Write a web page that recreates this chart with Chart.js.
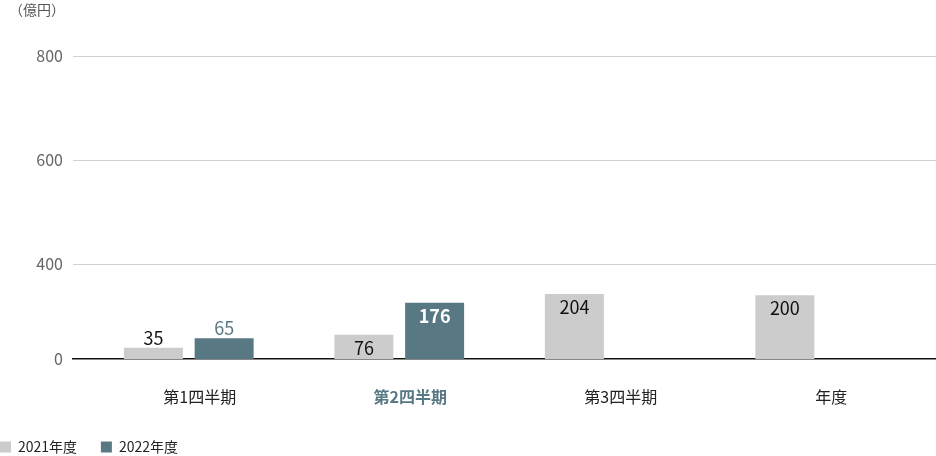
<!DOCTYPE html>
<html lang="ja">
<head>
<meta charset="utf-8">
<script src="https://cdn.jsdelivr.net/npm/chart.js@4/dist/chart.umd.min.js"></script>
<style>
  html, body { margin: 0; padding: 0; background: #fff; }
  #wrap { width: 936px; height: 456px; position: relative; }
</style>
</head>
<body>
<div id="wrap"><canvas id="graf"></canvas></div>
<script>
// categorii si valori (億円)
const categorii = ['第1四半期', '第2四半期', '第3四半期', '年度'];
const valori2021 = [35, 76, 204, 200];
const valori2022 = [65, 176];
const etichetaAxa = ['0', '400', '600', '800'];
const unitate = '（億円）';

const culoareGri = '#cccccc';
const culoareTeal = '#587884';
const fontJp = "'Noto Sans CJK JP', 'Noto Sans', sans-serif";

const puncte = arr => arr.map((v, i) => ({ x: i, y: v }));

// etichete pe bare + unitatea de sus
const pluginEtichete = {
    id: 'etichete',
    afterDatasetsDraw(chart) {
        const ctx = chart.ctx;
        ctx.save();
        ctx.textAlign = 'center';
        ctx.textBaseline = 'middle';
        chart.data.datasets.forEach((ds, di) => {
            const meta = chart.getDatasetMeta(di);
            meta.data.forEach((bar, i) => {
                const v = ds.data[i].y;
                const inauntru = v >= 70;
                let culoare = '#111';
                let greutate = 'normal';
                if (di === 1) {
                    culoare = inauntru ? '#fff' : culoareTeal;
                    greutate = inauntru ? 'bold' : 'normal';
                }
                ctx.fillStyle = culoare;
                ctx.font = `${greutate} 18px ${fontJp}`;
                const y = inauntru ? bar.y + 13 : bar.y - 10;
                ctx.fillText(String(v), bar.x, y);
            });
        });
        const ax = chart.scales.y2;
        ctx.textAlign = 'left';
        ctx.fillStyle = '#555';
        ctx.font = `14px ${fontJp}`;
        ctx.fillText(unitate, ax.left + 9, 10);
        ctx.restore();
    }
};

new Chart(document.getElementById('graf'), {
    type: 'bar',
    data: {
        datasets: [
            { label: '2021年度\u3000\u2002\u2009', data: puncte(valori2021), backgroundColor: culoareGri },
            { label: '2022年度', data: puncte(valori2022), backgroundColor: culoareTeal }
        ]
    },
    options: {
        responsive: true,
        maintainAspectRatio: false,
        animation: false,
        categoryPercentage: 0.672,
        barPercentage: 0.834,
        layout: { padding: { top: 56, right: 0, left: 0, bottom: -8 } },
        scales: {
            x: {
                type: 'linear',
                offset: false,
                min: -0.55,
                max: 3.55,
                afterBuildTicks: ax => { ax.ticks = categorii.map((c, i) => ({ value: i })); },
                afterFit: ax => { ax.height = 81; },
                grid: { display: false, drawTicks: false },
                border: { display: true, color: '#111', width: 1.5 },
                ticks: {
                    padding: 28,
                    maxRotation: 0,
                    labelOffset: 11,
                    callback: v => categorii[v],
                    color: c => c.index === 1 ? culoareTeal : '#222',
                    font: c => ({ family: fontJp, size: 16, weight: c.index === 1 ? 'bold' : 'normal' })
                }
            },
            y: {
                display: false,
                min: 0,
                max: 950
            },
            y2: {
                // axa originala e comprimata sub 400
                type: 'linear',
                position: 'left',
                min: 0.087,
                max: 3,
                afterBuildTicks: ax => { ax.ticks = etichetaAxa.map((t, i) => ({ value: i === 0 ? ax.min : i })); },
                afterFit: ax => { ax.width = 73; },
                grid: {
                    color: c => c.index === 0 ? 'rgba(0,0,0,0)' : '#d0d0d0',
                    drawTicks: false
                },
                border: { display: false },
                ticks: {
                    padding: 10,
                    callback: (v, i) => etichetaAxa[i],
                    color: '#666',
                    font: { family: fontJp, size: 16 }
                }
            }
        },
        plugins: {
            legend: {
                position: 'bottom',
                align: 'start',
                labels: {
                    boxWidth: 11,
                    boxHeight: 11,
                    padding: 0,
                    color: '#222',
                    font: { family: fontJp, size: 14 }
                }
            },
            tooltip: { enabled: false }
        }
    },
    plugins: [pluginEtichete]
});
</script>
</body>
</html>
